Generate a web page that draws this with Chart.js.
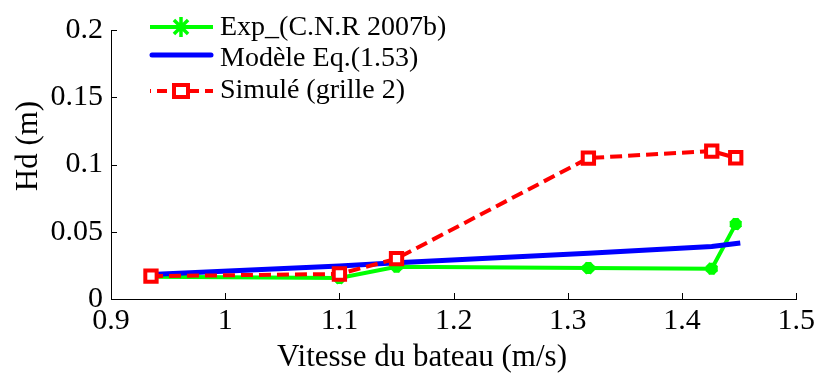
<!DOCTYPE html>
<html>
<head>
<meta charset="utf-8">
<script src="https://cdn.jsdelivr.net/npm/chart.js@4.4.1/dist/chart.umd.min.js"></script>
<style>
  body { margin: 0; background: #fff; }
  canvas { display: block; }
</style>
</head>
<body>
<canvas id="hdChart" width="819" height="376"></canvas>
<script>
// boat speed (m/s) and wave height Hd (m)
const speeds = [0.935, 1.1, 1.15, 1.318, 1.426, 1.447];
const modelSpeeds = [0.935, 1.1, 1.15, 1.318, 1.426, 1.451];
const hdExp = [0.0166, 0.0156, 0.024, 0.023, 0.0225, 0.0557];
const hdModel = [0.0183, 0.0245, 0.027, 0.034, 0.039, 0.0416];
const hdSim = [0.017, 0.0186, 0.030, 0.1048, 0.110, 0.105];

const xTicks = [0.9, 1, 1.1, 1.2, 1.3, 1.4, 1.5];
const yTicks = [0, 0.05, 0.1, 0.15, 0.2];
const seriesNames = ['Exp_(C.N.R 2007b)', 'Modèle Eq.(1.53)', 'Simulé (grille 2)'];
const xTitle = 'Vitesse du bateau (m/s)';
const yTitle = 'Hd (m)';

const GREEN = '#00ff00';
const BLUE = '#0000ff';
const RED = '#ff0000';
const SERIF = "'Liberation Serif', Tinos, 'Times New Roman', Times, 'DejaVu Serif', serif";

function pairs(xs, ys) {
    return xs.map((x, i) => ({ x: x, y: ys[i] }));
}

// ticks pointing inwards, axis titles and the legend box
const decorations = {
    id: 'decorations',
    afterDraw(chart) {
        const ctx = chart.ctx;
        const area = chart.chartArea;
        const xs = chart.scales.x;
        const ys = chart.scales.y;

        ctx.save();
        ctx.strokeStyle = '#000';
        ctx.lineWidth = 1;
        ctx.beginPath();
        xTicks.forEach(v => {
            const px = Math.round(xs.getPixelForValue(v)) + 0.5;
            ctx.moveTo(px, area.bottom);
            ctx.lineTo(px, area.bottom - 6);
        });
        yTicks.forEach(v => {
            const py = Math.round(ys.getPixelForValue(v)) + 0.5;
            ctx.moveTo(area.left, py);
            ctx.lineTo(area.left + 6, py);
        });
        ctx.stroke();

        // axis titles
        ctx.fillStyle = '#000';
        ctx.font = '31px ' + SERIF;
        ctx.textAlign = 'center';
        ctx.textBaseline = 'alphabetic';
        ctx.fillText(xTitle, 422, 366);
        ctx.save();
        ctx.translate(37, 146);
        ctx.rotate(-Math.PI / 2);
        ctx.fillText(yTitle, 0, 0);
        ctx.restore();

        // legend
        const x0 = 150, x1 = 213, xm = 181;
        const rows = [27, 55, 91];
        ctx.lineCap = 'butt';

        ctx.strokeStyle = GREEN;
        ctx.lineWidth = 4;
        ctx.beginPath();
        ctx.moveTo(x0, rows[0]);
        ctx.lineTo(x1, rows[0]);
        ctx.stroke();
        ctx.lineWidth = 3.5;
        ctx.beginPath();
        for (let k = 0; k < 4; k++) {
            const a = k * Math.PI / 4;
            ctx.moveTo(xm - 10 * Math.sin(a), rows[0] - 10 * Math.cos(a));
            ctx.lineTo(xm + 10 * Math.sin(a), rows[0] + 10 * Math.cos(a));
        }
        ctx.stroke();

        ctx.strokeStyle = BLUE;
        ctx.lineWidth = 5;
        ctx.lineCap = 'round';
        ctx.beginPath();
        ctx.moveTo(x0 + 2, rows[1]);
        ctx.lineTo(x1 - 2, rows[1]);
        ctx.stroke();
        ctx.lineCap = 'butt';

        ctx.strokeStyle = RED;
        ctx.lineWidth = 4;
        ctx.setLineDash([10, 6]);
        ctx.lineDashOffset = -7;
        ctx.beginPath();
        ctx.moveTo(x0, rows[2]);
        ctx.lineTo(x1, rows[2]);
        ctx.stroke();
        ctx.setLineDash([]);
        ctx.fillStyle = '#fff';
        ctx.fillRect(xm - 7, rows[2] - 6, 14, 12);
        ctx.strokeRect(xm - 7, rows[2] - 6, 14, 12);

        ctx.fillStyle = '#000';
        ctx.font = '28px ' + SERIF;
        ctx.textAlign = 'left';
        ctx.fillText(seriesNames[0], 220, 35);
        ctx.fillText(seriesNames[1], 220, 66);
        ctx.fillText(seriesNames[2], 220, 98);
        ctx.restore();
    }
};

function drawChart() {
    new Chart(document.getElementById('hdChart'), {
        type: 'line',
        data: {
            datasets: [
                {
                    label: seriesNames[0],
                    data: pairs(speeds, hdExp),
                    borderColor: GREEN,
                    backgroundColor: GREEN,
                    borderWidth: 4,
                    pointStyle: 'star',
                    pointRadius: 6,
                    pointBorderWidth: 6,
                    pointBorderColor: GREEN,
                    order: 3
                },
                {
                    label: seriesNames[1],
                    data: pairs(modelSpeeds, hdModel),
                    borderColor: BLUE,
                    borderWidth: 5,
                    pointRadius: 0,
                    order: 2
                },
                {
                    label: seriesNames[2],
                    data: pairs(speeds, hdSim),
                    borderColor: RED,
                    borderWidth: 4,
                    borderDash: [12, 6],
                    pointStyle: 'rect',
                    pointRadius: 8,
                    pointBorderWidth: 4,
                    pointBorderColor: RED,
                    pointBackgroundColor: '#fff',
                    order: 1
                }
            ]
        },
        options: {
            responsive: false,
            animation: false,
            devicePixelRatio: 1,
            layout: { padding: { left: 0, right: 22, top: 30, bottom: 0 } },
            elements: { line: { tension: 0 } },
            plugins: {
                legend: { display: false },
                tooltip: { enabled: false }
            },
            scales: {
                x: {
                    type: 'linear',
                    min: 0.9,
                    max: 1.5,
                    afterBuildTicks: scale => { scale.ticks = xTicks.map(v => ({ value: v })); },
                    afterFit: scale => { scale.height = 77; },
                    grid: { display: false, drawTicks: false },
                    border: { display: true, color: '#000', width: 1 },
                    ticks: {
                        padding: 4,
                        maxRotation: 0,
                        color: '#000',
                        font: { family: SERIF, size: 30 },
                        callback: v => String(v)
                    }
                },
                y: {
                    type: 'linear',
                    min: 0,
                    max: 0.2,
                    afterBuildTicks: scale => { scale.ticks = yTicks.map(v => ({ value: v })); },
                    afterFit: scale => { scale.width = 111; },
                    grid: { display: false, drawTicks: false },
                    border: { display: true, color: '#000', width: 1 },
                    ticks: {
                        padding: 8,
                        color: '#000',
                        font: { family: SERIF, size: 30 },
                        callback: v => String(v)
                    }
                }
            }
        },
        plugins: [decorations]
    });
}

Promise.all([
    document.fonts.load("30px 'Liberation Serif'"),
    document.fonts.load("30px Tinos")
]).catch(() => null).then(drawChart);
</script>
</body>
</html>
